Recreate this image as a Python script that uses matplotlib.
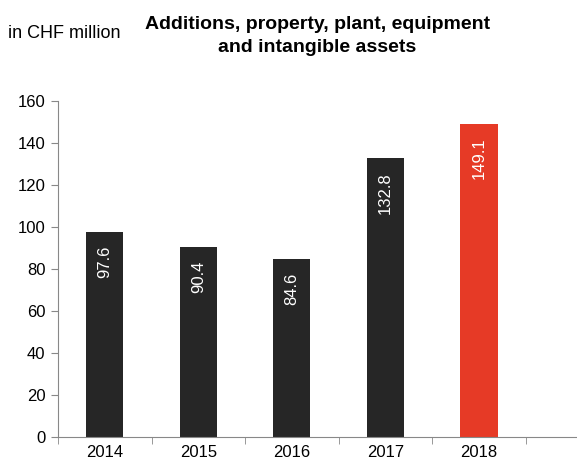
import numpy as np
import matplotlib; matplotlib.use('Agg')
import matplotlib.pyplot as plt

years = ['2014', '2015', '2016', '2017', '2018']
values = [97.6, 90.4, 84.6, 132.8, 149.1]
colors = ['#262626', '#262626', '#262626', '#262626', '#E63A26']

plt.rcParams['font.family'] = ['Liberation Sans', 'DejaVu Sans']
fig = plt.figure(figsize=(5.77, 4.65), dpi=100)
ax = fig.add_axes([58 / 577, 0.060, 1 - 58 / 577, 0.723])

x = np.arange(len(years))
ax.bar(x, values, width=0.40, color=colors, zorder=2)
for xi, v in zip(x, values):
    ax.annotate(f'{v:.1f}', (xi, v), xytext=(0, -10), textcoords='offset points',
                ha='center', va='top', rotation=90, color='white', fontsize=12)

ax.set_ylim(0, 160)
ax.set_yticks(range(0, 161, 20))
ax.set_xlim(-0.5, 5.05)
ax.set_xticks(x)
ax.set_xticklabels(years)
ax.set_xticks(np.arange(-0.5, 5.0, 1.0), minor=True)
ax.tick_params(axis='x', which='major', length=0, labelsize=12, pad=6)
ax.tick_params(axis='x', which='minor', length=5, color='#888888')
ax.tick_params(axis='y', length=5, color='#888888', labelsize=12, pad=4)
for s in ['top', 'right']:
    ax.spines[s].set_visible(False)
for s in ['left', 'bottom']:
    ax.spines[s].set_color('#888888')

fig.text(0.014, 0.928, 'in CHF million', fontsize=13, ha='left', va='center')
fig.text(0.55, 0.922, 'Additions, property, plant, equipment\nand intangible assets',
         fontsize=14, fontweight='bold', ha='center', va='center', linespacing=1.45)

fig.savefig('out.png', dpi=100)
